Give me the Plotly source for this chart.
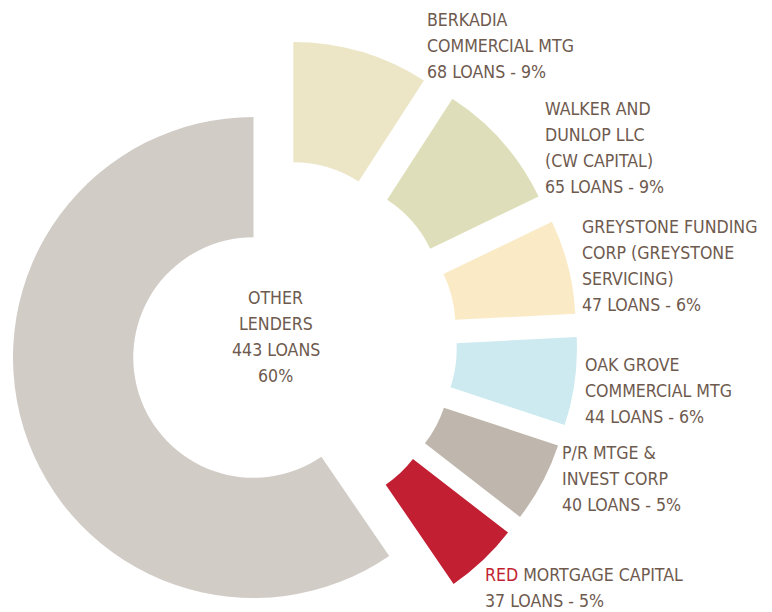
import math
import plotly.graph_objects as go

# ---- data ----
lenders = [
    "BERKADIA COMMERCIAL MTG",
    "WALKER AND DUNLOP LLC (CW CAPITAL)",
    "GREYSTONE FUNDING CORP (GREYSTONE SERVICING)",
    "OAK GROVE COMMERCIAL MTG",
    "P/R MTGE & INVEST CORP",
    "RED MORTGAGE CAPITAL",
    "OTHER LENDERS",
]
loans = [68, 65, 47, 44, 40, 37, 443]
percent_labels = ["9%", "9%", "6%", "6%", "5%", "5%", "60%"]
label_lines = [
    ["BERKADIA", "COMMERCIAL MTG"],
    ["WALKER AND", "DUNLOP LLC", "(CW CAPITAL)"],
    ["GREYSTONE FUNDING", "CORP (GREYSTONE", "SERVICING)"],
    ["OAK GROVE", "COMMERCIAL MTG"],
    ["P/R MTGE &", "INVEST CORP"],
    ["<span style='color:#C21F32'>RED</span> MORTGAGE CAPITAL"],
]
center_lines = ["OTHER", "LENDERS"]

# ---- style / layout ----
colors = ["#ECE6C7", "#DEDFBA", "#FAEAC6", "#CDEAF1", "#BFB7AE", "#C21F32", "#D2CCC7"]
TEXT = "#6E5A4E"
FONT = "DejaVu Sans Condensed, sans-serif"
FS = 17.6
LINE_GAP = 25.9
PAGE_OFF = 8.0          # default body margin of the page
W, H = 772, 630
R = 240.5
HOLE = 0.5
CENTER = (276.0, 341.0)
PULL_PX = 61.0
OTHER_CENTER = (253.5, 357.5)
label_pos = [(427.7, 13.3), (546.0, 102.7), (583.3, 220.7), (586.0, 358.3), (563.3, 446.7), (485.7, 568.3)]
center_cap_top = 291.7
CAP_OFF = 2 + 0.199 * FS


def px(x):
    return (x - PAGE_OFF) / W


def py(y):
    return 1 - (y - PAGE_OFF) / H


fig = go.Figure()
n = len(loans)
total = sum(loans)
cum = 0
for i, v in enumerate(loans):
    a0 = 360.0 * cum / total
    a1 = 360.0 * (cum + v) / total
    cum += v
    b = math.radians((a0 + a1) / 2)
    if i == n - 1:
        cx, cy = OTHER_CENTER
    else:
        cx = CENTER[0] + PULL_PX * math.sin(b)
        cy = CENTER[1] - PULL_PX * math.cos(b)
    slice_colors = [colors[j] if j == i else "rgba(0,0,0,0)" for j in range(n)]
    fig.add_trace(go.Pie(
        values=loans, labels=lenders, sort=False, direction="clockwise", rotation=0,
        hole=HOLE, marker=dict(colors=slice_colors, line=dict(width=0)),
        textinfo="none", hoverinfo="skip", showlegend=False,
        domain=dict(x=[px(cx - R), px(cx + R)], y=[py(cy + R), py(cy - R)]),
    ))

annotations = []
for i, lines in enumerate(label_lines):
    all_lines = lines + [f"{loans[i]} LOANS - {percent_labels[i]}"]
    x, y = label_pos[i]
    for k, line in enumerate(all_lines):
        annotations.append(dict(
            text=line, x=px(x - 3), y=py(y + k * LINE_GAP - CAP_OFF), xref="paper", yref="paper",
            xanchor="left", yanchor="top", align="left", showarrow=False,
            font=dict(family=FONT, size=FS, color=TEXT),
        ))
c_lines = center_lines + [f"{loans[-1]} LOANS", percent_labels[-1]]
for k, line in enumerate(c_lines):
    annotations.append(dict(
        text=line, x=px(CENTER[0] - 0.5), y=py(center_cap_top + k * LINE_GAP * 1.0 - CAP_OFF),
        xref="paper", yref="paper", xanchor="center", yanchor="top", align="center",
        showarrow=False, font=dict(family=FONT, size=FS, color=TEXT),
    ))

fig.update_layout(
    width=W, height=H, margin=dict(l=0, r=0, t=0, b=0),
    paper_bgcolor="white", plot_bgcolor="white",
    annotations=annotations,
)
fig.write_html("out.html")
